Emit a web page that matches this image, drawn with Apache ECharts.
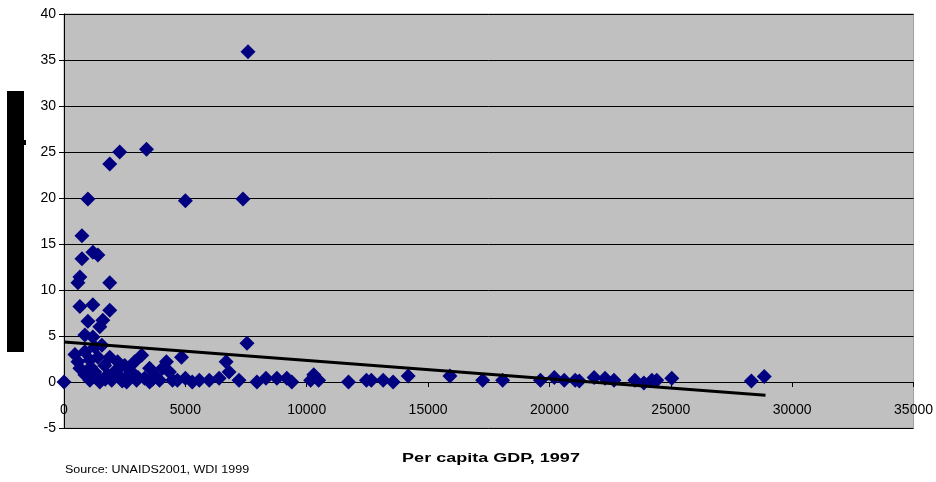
<!DOCTYPE html>
<html>
<head>
<meta charset="utf-8">
<script src="https://cdn.jsdelivr.net/npm/echarts@6/dist/echarts.min.js"></script>
<style>html,body{margin:0;padding:0;background:#fff;}#c{width:936px;height:482px;}</style>
</head>
<body>
<div id="c"></div>
<script>
// Per capita GDP (1997, US$) and HIV prevalence (%) for each country
const gdp = [
  7580, 2295, 3400, 1885, 985, 5000, 7375, 740, 1190, 1395, 740, 655, 575, 1885, 655, 1190, 1885, 985, 1600, 1475,
  860, 1190, 7540, 450, 860, 1270, 1560, 1395, 2210, 3200, 4220, 4840, 6680, 4060, 6800, 10290, 14180, 15900, 20200, 21840,
  25040, 28850, 28320, 0, 655, 860, 1065, 1270, 1475, 1680, 1800, 1965, 2170, 2375, 2580, 2785, 2990, 3320, 3525, 3730,
  3935, 4470, 5285, 5575, 5985, 6390, 7210, 7950, 8320, 8770, 9180, 9385, 10160, 10490, 11720, 12460, 12660, 13150, 13560, 17250,
  18070, 19630, 20610, 21060, 21230, 22290, 22660, 23520, 23890, 24220, 24420, 575, 1065, 1885, 2500, 2910, 3525, 4345, 4670, 5000,
  1350, 1700, 2050, 2650, 3050, 3650, 1100, 2400
];
const hiv = [
  35.9, 25.0, 25.3, 23.7, 19.9, 19.7, 19.9, 15.9, 14.1, 13.8, 13.4, 11.4, 10.8, 10.8, 8.2, 8.4, 7.8, 6.6, 6.7, 6.0,
  5.1, 4.9, 4.2, 3.0, 3.3, 3.8, 4.0, 2.7, 2.2, 2.9, 2.2, 2.7, 2.2, 1.5, 1.1, 0.8, 0.65, 0.65, 0.5, 0.5,
  0.4, 0.6, 0.1, 0.0, 1.5, 0.8, 0.2, 1.1, 0.0, 1.8, 0.8, 0.2, 1.3, 0.4, 0.0, 1.1, 0.2, 0.4, 0.0, 0.8,
  0.2, 0.2, 0.0, 0.2, 0.2, 0.4, 0.2, 0.0, 0.4, 0.4, 0.4, 0.0, 0.2, 0.2, 0.0, 0.2, 0.2, 0.2, 0.0, 0.2,
  0.2, 0.2, 0.2, 0.2, 0.1, 0.4, 0.2, 0.2, -0.1, 0.2, 0.2, 2.2, 2.4, 2.7, 1.8, 2.2, 1.5, 1.1, 0.2, 0.4,
  0.6, 0.3, 1.0, 0.7, 0.5, 0.3, 1.6, 0.1
];
// Linear trend line end points
const trendX = [0, 28900];
const trendY = [4.35, -1.45];
// Axis ranges
const xTicks = {min: 0, max: 35000, interval: 5000};
const yTicks = {min: -5, max: 40, interval: 5};
const xTitle = 'Per capita GDP, 1997';
const sourceText = 'Source: UNAIDS2001, WDI 1999';

const points = gdp.map((g, i) => [g, hiv[i]]);
const trend = trendX.map((x, i) => [x, trendY[i]]);

const chart = echarts.init(document.getElementById('c'), null, {renderer: 'canvas'});
chart.setOption({
  animation: false,
  backgroundColor: '#ffffff',
  grid: {left: 64, right: 18, top: 14, bottom: 54, show: true, backgroundColor: '#c0c0c0', borderColor: '#a0a0a0', borderWidth: 1},
  xAxis: {
    type: 'value', min: xTicks.min, max: xTicks.max, interval: xTicks.interval,
    axisLine: {show: true, onZero: true, lineStyle: {color: '#000', width: 1}},
    axisTick: {show: true, inside: false, length: 5, lineStyle: {color: '#000'}},
    axisLabel: {color: '#000', fontFamily: 'Liberation Sans, Arial', fontSize: 14, margin: -25, formatter: v => String(v)},
    splitLine: {show: false}
  },
  yAxis: {
    type: 'value', min: yTicks.min, max: yTicks.max, interval: yTicks.interval,
    axisLine: {show: true, onZero: false, lineStyle: {color: '#000', width: 1}},
    axisTick: {show: true, inside: false, length: 5, lineStyle: {color: '#000'}},
    axisLabel: {color: '#000', fontFamily: 'Liberation Sans, Arial', fontSize: 14, margin: 8, formatter: v => String(v)},
    splitLine: {show: true, lineStyle: {color: '#000', width: 1}}
  },
  series: [
    {type: 'scatter', data: points, symbol: 'diamond', symbolSize: 15, itemStyle: {color: '#000080', opacity: 1}, z: 3},
    {type: 'line', data: trend, symbol: 'none', lineStyle: {color: '#000', width: 3}, z: 4, silent: true}
  ],
  graphic: [
    {type: 'rect', shape: {x: 7, y: 91, width: 17, height: 261}, style: {fill: '#000'}},
    {type: 'rect', shape: {x: 24, y: 140, width: 2, height: 5}, style: {fill: '#000'}},
    {type: 'text', x: 491, y: 459, style: {text: xTitle, fill: '#000', font: 'bold 12px Liberation Sans, Arial', textAlign: 'center', textVerticalAlign: 'middle'}, scaleX: 1.5, originX: 0, originY: 0},
    {type: 'text', x: 65, y: 470, style: {text: sourceText, fill: '#000', font: '10px Liberation Sans, Arial', textAlign: 'left', textVerticalAlign: 'middle'}, scaleX: 1.25, originX: 0, originY: 0}
  ]
});
</script>
</body>
</html>
